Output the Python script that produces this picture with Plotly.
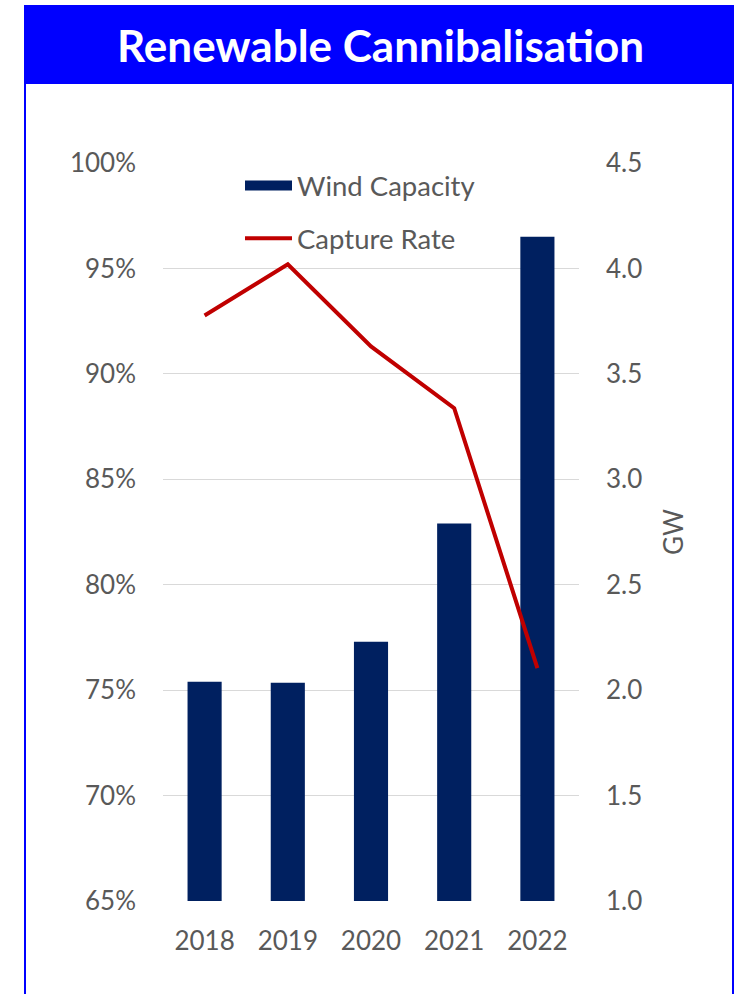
import plotly.graph_objects as go

# ---- data ----
years = ["2018", "2019", "2020", "2021", "2022"]
wind_capacity_gw = [2.04, 2.035, 2.23, 2.79, 4.15]
capture_rate = [0.9277, 0.952, 0.913, 0.8837, 0.7604]

title_text = "Renewable Cannibalisation"
bar_name = "Wind Capacity"
line_name = "Capture Rate"

W, H = 736, 994
L, R, T, B = 163, 579, 163, 901  # plot area in pixels
FONT = "Lato"
GREY = "#595959"
BLUE = "#0000FF"
NAVY = "#002060"
RED = "#C00000"


def px(x):
    return (x - L) / (R - L)


def py(y):
    return (B - y) / (B - T)


fig = go.Figure()
fig.add_trace(go.Bar(
    x=years, y=wind_capacity_gw, name=bar_name, yaxis="y",
    marker=dict(color=NAVY, line=dict(width=0)),
    showlegend=False,
))
# legend entry for the bars, drawn as a wide block like the original
fig.add_trace(go.Scatter(
    x=[None], y=[None], name=bar_name, yaxis="y", mode="lines",
    line=dict(color=NAVY, width=14),
    legendgroup="a", hoverinfo="skip",
))
fig.add_trace(go.Scatter(
    x=years, y=capture_rate, name=line_name, yaxis="y2", mode="lines",
    line=dict(color=RED, width=4),
    legendgroup="b",
))

shapes = [
    # title bar
    dict(type="rect", xref="paper", yref="paper",
         x0=px(25), x1=px(734), y0=py(84), y1=py(5),
         fillcolor=BLUE, line=dict(width=0), layer="above"),
    # frame lines
    dict(type="line", xref="paper", yref="paper",
         x0=px(25), x1=px(25), y0=py(5), y1=py(1000),
         line=dict(color=BLUE, width=2)),
    dict(type="line", xref="paper", yref="paper",
         x0=px(733), x1=px(733), y0=py(5), y1=py(1000),
         line=dict(color=BLUE, width=2)),
]

fig.update_layout(
    width=W, height=H,
    margin=dict(l=L, r=W - R, t=T, b=H - B, pad=0),
    paper_bgcolor="white", plot_bgcolor="white",
    font=dict(family=FONT, size=26, color=GREY),
    bargap=0.59,
    showlegend=True,
    legend=dict(
        x=px(240), y=py(161), xanchor="left", yanchor="top",
        bgcolor="rgba(0,0,0,0)", borderwidth=0,
        traceorder="grouped", tracegroupgap=14,
        itemwidth=47,
        font=dict(family=FONT, size=27.5, color=GREY),
    ),
    xaxis=dict(
        type="category", showgrid=False, zeroline=False, showline=False,
        ticks="", ticklabelstandoff=22,
        tickfont=dict(family=FONT, size=26, color=GREY),
    ),
    yaxis=dict(
        side="right", range=[1.0, 4.5], dtick=0.5, tick0=1.0,
        tickformat=".1f", showgrid=True, gridcolor="#D9D9D9", gridwidth=1,
        zeroline=False, showline=False, ticks="", ticklabelstandoff=26,
        tickfont=dict(family=FONT, size=26, color=GREY),
        title=dict(text="GW", standoff=23,
                   font=dict(family=FONT, size=26, color=GREY)),
    ),
    yaxis2=dict(
        overlaying="y", side="left", range=[0.65, 1.0], dtick=0.05,
        tick0=0.65, tickformat=".0%", showgrid=False, zeroline=False,
        showline=False, ticks="", ticklabelstandoff=26,
        tickfont=dict(family=FONT, size=26, color=GREY),
    ),
    shapes=shapes,
    annotations=[dict(
        text=title_text, xref="paper", yref="paper",
        x=px(380), y=py(45), xanchor="center", yanchor="middle",
        showarrow=False,
        font=dict(family=FONT, size=44, color="white", weight="bold"),
    )],
)

fig.write_html("out.html")
